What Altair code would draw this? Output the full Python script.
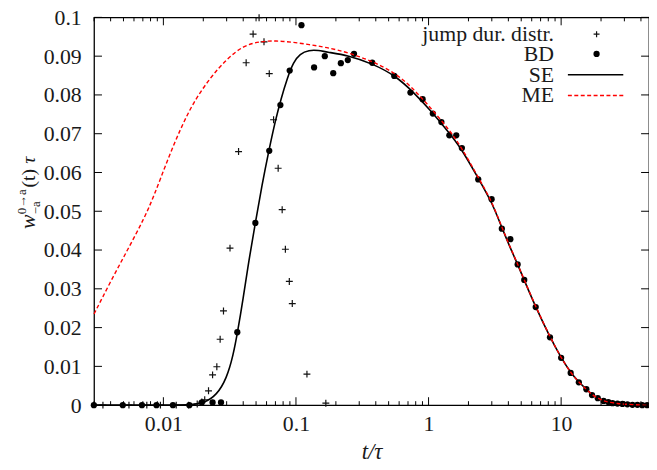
import altair as alt
import pandas as pd

# ---- data ----
jump_x = [0.0035, 0.0055, 0.0075, 0.0095, 0.0125, 0.0155, 0.018, 0.0195, 0.0205, 0.0219, 0.0235,
          0.0253, 0.0268, 0.0284, 0.0318, 0.0369, 0.0421, 0.0475, 0.0527, 0.0574, 0.0629, 0.0678,
          0.0734, 0.0787, 0.0832, 0.0891, 0.0938, 0.121, 0.168]
jump_y = [0, 0, 0, 0, 0, 0, 0.0003, 0.0008, 0.0014, 0.0037, 0.0078, 0.0099, 0.0170, 0.0243, 0.0405,
          0.0654, 0.0883, 0.0957, 0.0999, 0.0937, 0.0855, 0.0736, 0.0611, 0.0504, 0.0402, 0.0319,
          0.0262, 0.0080, 0.0005]

bd_x = [0.00299, 0.00494, 0.00689, 0.00887, 0.0118, 0.0157, 0.0195, 0.0235, 0.0272, 0.0361, 0.0494,
        0.0629, 0.0763, 0.0897, 0.110, 0.137, 0.165, 0.191, 0.218, 0.246, 0.274, 0.376, 0.551, 0.730,
        0.902, 1.077, 1.250, 1.435, 1.618, 1.784, 2.37, 2.99, 3.57, 4.14, 4.70, 5.27, 6.43, 8.24, 10.0,
        11.8, 13.6, 15.5, 17.1, 18.9, 20.9, 22.7, 24.4, 26.6, 29.0, 31.6, 34.5, 37.6, 40.9, 44.6]
bd_y = [0, 0, 0, 0, 0, 0, 0.0007, 0.0007, 0.0007, 0.0188, 0.0470, 0.0656, 0.0774, 0.0863, 0.0980,
        0.0871, 0.0900, 0.0856, 0.0882, 0.0890, 0.0906, 0.0883, 0.0849, 0.0806, 0.0789, 0.0752,
        0.0730, 0.0696, 0.0696, 0.0663, 0.0582, 0.0531, 0.0455, 0.0428, 0.0363, 0.0323, 0.0253,
        0.0175, 0.0122, 0.0083, 0.0059, 0.0041, 0.0026, 0.0018, 0.0011, 0.0008, 0.0005, 0.0004,
        0.0003, 0.0002, 0.0001, 0.0001, 0.0, 0.0]

se_x = [0.003, 0.012, 0.0164, 0.0202, 0.0253, 0.0300, 0.0336, 0.0363, 0.0399, 0.0442, 0.0495,
        0.0553, 0.0624, 0.0697, 0.0773, 0.0857, 0.0958, 0.107, 0.125, 0.149, 0.167, 0.250, 0.374,
        0.558, 0.787, 1.047, 1.393, 1.753, 2.37, 2.99, 3.57, 4.14, 4.70, 5.27, 6.43, 8.24, 10.0,
        11.8, 13.6, 15.5, 17.1, 18.9, 20.9, 22.7, 26.6, 31.6, 40.0, 46.0]
se_y = [0.0, 0.0, 0.0001, 0.0005, 0.0026, 0.0069, 0.0128, 0.0189, 0.0273, 0.0375, 0.0472,
        0.0566, 0.0656, 0.0732, 0.0791, 0.0842, 0.0885, 0.0906, 0.0916, 0.0915, 0.0911, 0.0902,
        0.0881, 0.0851, 0.0804, 0.0758, 0.0707, 0.0664, 0.0585, 0.0525, 0.0458, 0.0405, 0.0363,
        0.0322, 0.0253, 0.0175, 0.0122, 0.0084, 0.0059, 0.0041, 0.0027, 0.0018, 0.0011, 0.0008,
        0.0004, 0.0002, 0.00005, 0.0]

me_x = [0.003, 0.00404, 0.00538, 0.00718, 0.00853, 0.0107, 0.0135, 0.0169, 0.0225, 0.0301, 0.0400,
        0.0532, 0.0709, 0.0945, 0.126, 0.168, 0.250, 0.374, 0.558, 0.743, 0.988, 1.393, 1.753, 2.37,
        2.99, 3.57, 4.14, 4.70, 5.27, 6.43, 8.24, 10.0, 11.8, 13.6, 15.5, 17.1, 18.9, 20.9, 22.7,
        26.6, 31.6, 40.0, 46.0]
me_y = [0.0235, 0.0322, 0.0401, 0.0482, 0.0541, 0.0631, 0.0714, 0.0782, 0.0844, 0.0893, 0.0927,
        0.0938, 0.0940, 0.0936, 0.0930, 0.0923, 0.0909, 0.0887, 0.0857, 0.0821, 0.0775, 0.0715,
        0.0668, 0.0587, 0.0527, 0.0459, 0.0406, 0.0364, 0.0323, 0.0254, 0.0176, 0.0122, 0.0084,
        0.0059, 0.0041, 0.0027, 0.0018, 0.0011, 0.0008, 0.0004, 0.0002, 0.00005, 0.0]

x_major = [0.01, 0.1, 1, 10]
x_minor = [0.003, 0.004, 0.005, 0.006, 0.007, 0.008, 0.009,
           0.02, 0.03, 0.04, 0.05, 0.06, 0.07, 0.08, 0.09,
           0.2, 0.3, 0.4, 0.5, 0.6, 0.7, 0.8, 0.9,
           2, 3, 4, 5, 6, 7, 8, 9, 20, 30, 40]
y_major = [0, 0.01, 0.02, 0.03, 0.04, 0.05, 0.06, 0.07, 0.08, 0.09, 0.1]

legend_labels = ["jump dur. distr.", "BD", "SE", "ME"]

# ---- layout constants ----
W, H = 561, 392
FONT = "Liberation Serif"
FS = 22
MAJ, MIN = 8, 4
INK = "#1a1a1a"

xscale = alt.Scale(type="log", domain=[0.003, 46], nice=False)
yscale = alt.Scale(domain=[0, 0.1], nice=False)
xaxis = alt.Axis(values=x_major, format="~g", title="t/τ", titleFontStyle="italic",
                 ticks=False, domain=False, grid=False, labelPadding=9, titlePadding=6,
                 labelFont=FONT, labelFontSize=FS, labelColor=INK,
                 titleFont=FONT, titleFontSize=23, titleColor=INK, titleFontWeight="normal")
yaxis = alt.Axis(values=y_major, format="~g", title="", ticks=False, domain=False,
                 grid=False, labelPadding=13,
                 labelFont=FONT, labelFontSize=FS, labelColor=INK)
X = alt.X("x:Q", scale=xscale, axis=xaxis)
Y = alt.Y("y:Q", scale=yscale, axis=yaxis)

jump_df = pd.DataFrame({"x": jump_x, "y": jump_y})
bd_df = pd.DataFrame({"x": bd_x, "y": bd_y})
se_df = pd.DataFrame({"x": se_x, "y": se_y})
me_df = pd.DataFrame({"x": me_x, "y": me_y})
one = pd.DataFrame({"a": [0]})

PLUS = "M-1,0L1,0M0,-1L0,1"

jump = alt.Chart(jump_df).mark_point(shape=PLUS, filled=False, stroke="#111", strokeWidth=1.2,
                                     size=49, opacity=1).encode(x=X, y=Y)
bd = alt.Chart(bd_df).mark_circle(color="black", opacity=1, size=40).encode(x=X, y=Y)
se = alt.Chart(se_df).mark_line(color="black", strokeWidth=1.6, interpolate="basis").encode(x=X, y=Y)
me = alt.Chart(me_df).mark_line(color="#ff0000", strokeWidth=1.4, strokeDash=[4, 2.5],
                                interpolate="basis").encode(x=X, y=Y)

# inward ticks on all four sides (gnuplot style)
xmaj_df = pd.DataFrame({"x": x_major})
xmin_df = pd.DataFrame({"x": x_minor})
ymaj_df = pd.DataFrame({"y": y_major})
ticks = [
    alt.Chart(xmaj_df).mark_rule(color="black", strokeWidth=1).encode(x=X, y=alt.value(H), y2=alt.value(H - MAJ)),
    alt.Chart(xmaj_df).mark_rule(color="black", strokeWidth=1).encode(x=X, y=alt.value(0), y2=alt.value(MAJ)),
    alt.Chart(xmin_df).mark_rule(color="black", strokeWidth=1).encode(x=X, y=alt.value(H), y2=alt.value(H - MIN)),
    alt.Chart(xmin_df).mark_rule(color="black", strokeWidth=1).encode(x=X, y=alt.value(0), y2=alt.value(MIN)),
    alt.Chart(ymaj_df).mark_rule(color="black", strokeWidth=1).encode(y=Y, x=alt.value(0), x2=alt.value(MAJ)),
    alt.Chart(ymaj_df).mark_rule(color="black", strokeWidth=1).encode(y=Y, x=alt.value(W), x2=alt.value(W - MAJ)),
]

# legend (labels left, samples right, as in gnuplot)
LX = 465
rows = [17, 37, 58, 79]
leg = []
for lab, ry in zip(legend_labels, rows):
    leg.append(alt.Chart(one).mark_text(text=lab, font=FONT, fontSize=FS, align="right",
                                        baseline="middle", color=INK)
               .encode(x=alt.value(LX), y=alt.value(ry)))
leg.append(alt.Chart(one).mark_point(shape=PLUS, filled=False, stroke="#111", strokeWidth=1.2, size=36, opacity=1)
           .encode(x=alt.value(508), y=alt.value(rows[0])))
leg.append(alt.Chart(one).mark_circle(color="black", opacity=1, size=40)
           .encode(x=alt.value(508), y=alt.value(rows[1])))
leg.append(alt.Chart(one).mark_rule(color="black", strokeWidth=1.6)
           .encode(x=alt.value(479), x2=alt.value(535), y=alt.value(rows[2])))
leg.append(alt.Chart(one).mark_rule(color="#ff0000", strokeWidth=1.4, strokeDash=[4, 2.5])
           .encode(x=alt.value(479), x2=alt.value(535), y=alt.value(rows[3])))

# y-axis title  w^{0→a}_{-a}(t) τ  built from pieces (rotated)
BX = -60
ytitle = [
    alt.Chart(one).mark_text(text="w", font=FONT, fontSize=FS, fontStyle="italic", angle=270,
                             align="left", baseline="alphabetic", color=INK)
    .encode(x=alt.value(BX), y=alt.value(214)),
    alt.Chart(one).mark_text(text="0→a", font=FONT, fontSize=13, angle=270,
                             align="left", baseline="alphabetic", color=INK)
    .encode(x=alt.value(BX - 9), y=alt.value(199)),
    alt.Chart(one).mark_text(text="−a", font=FONT, fontSize=13, angle=270,
                             align="left", baseline="alphabetic", color=INK)
    .encode(x=alt.value(BX + 5), y=alt.value(199)),
    alt.Chart(one).mark_text(text="(t)", font=FONT, fontSize=20, angle=270,
                             align="left", baseline="alphabetic", color=INK)
    .encode(x=alt.value(BX), y=alt.value(172)),
    alt.Chart(one).mark_text(text="τ", font=FONT, fontSize=20, fontStyle="italic", angle=270,
                             align="left", baseline="alphabetic", color=INK)
    .encode(x=alt.value(BX), y=alt.value(148)),
]

chart = alt.layer(jump, bd, se, me, *ticks, *leg, *ytitle).properties(
    width=W, height=H,
    padding={"left": 87, "top": 7, "right": 0, "bottom": 56},
    autosize=alt.AutoSizeParams(type="none"),
    background="white",
).configure_view(stroke="black", strokeWidth=1.3)

chart.save("out.html", embed_options={"renderer": "svg", "actions": False})
